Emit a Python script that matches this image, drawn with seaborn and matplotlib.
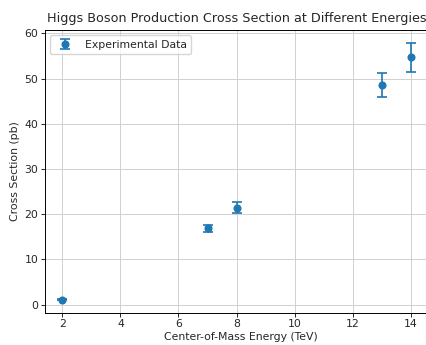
"""Higgs boson production cross section vs collision energy"""

import matplotlib
matplotlib.use('Agg')
import matplotlib.pyplot as plt
import seaborn as sns

energies = [2, 7, 8, 13, 14]          # TeV
cross_sections = [1.1, 16.9, 21.4, 48.6, 54.7]   # pb
uncertainties = [0.1, 0.8, 1.2, 2.7, 3.2]

sns.set_theme(style='ticks', palette='tab10',
              rc={'axes.grid': True, 'grid.color': '#d0d0d0', 'grid.linewidth': 0.7,
                  'axes.edgecolor': 'black', 'axes.linewidth': 0.7,
                  'xtick.major.width': 0.7, 'ytick.major.width': 0.7,
                  'xtick.major.size': 2.7, 'ytick.major.size': 2.7})
plt.rcParams['font.family'] = ['DejaVu Sans']

fig = plt.figure(figsize=(4.27, 3.45), dpi=100)
# axes run past the right edge, as in the cropped reference
ax = fig.add_axes([0.105, 0.093, 0.92, 0.820])

blue = sns.color_palette('tab10')[0]
ax.errorbar(energies, cross_sections, yerr=uncertainties, fmt='o', color=blue,
            markersize=4.8, capsize=3.8, elinewidth=1.2, capthick=1.2,
            label='Experimental Data')
ax.set_xlim(1.4, 14.92)

ax.set_title('Higgs Boson Production Cross Section at Different Energies',
             fontsize=9.2, x=0.488)
ax.set_xlabel('Center-of-Mass Energy (TeV)', fontsize=7.8, labelpad=2)
ax.set_ylabel('Cross Section (pb)', fontsize=7.8, labelpad=3)
ax.tick_params(labelsize=7.8, pad=2)
ax.legend(loc='upper left', fontsize=7.8)

fig.savefig('out.png', dpi=100)
